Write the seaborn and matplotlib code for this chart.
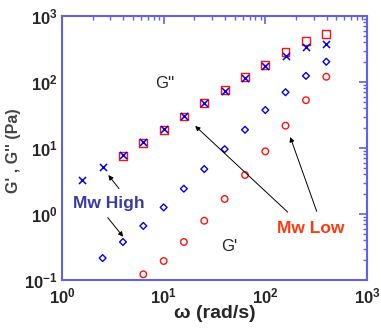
import numpy as np
import pandas as pd
import seaborn as sns
import matplotlib.pyplot as plt
from matplotlib.ticker import LogLocator, NullFormatter

# frequencies (rad/s)
omega = [1.58, 2.51, 3.98, 6.31, 10.0, 15.8, 25.1, 39.8, 63.1, 100, 158, 251, 398]

# Mw High
g2_high = [3.3, 5.1, 7.9, 12.3, 19.2, 30.5, 47.6, 74, 115, 173, 248, 336, 380]
g1_high = [None, 0.215, 0.377, 0.66, 1.26, 2.42, 4.8, 9.6, 18.9, 37.6, 70, 124, 203]

# Mw Low
g2_low = [None, None, 7.6, 12.0, 19.0, 30.0, 48.0, 75, 118, 180, 288, 420, 540]
g1_low = [None, None, None, 0.122, 0.194, 0.377, 0.79, 1.69, 3.9, 8.9, 21.8, 53, 120]

sns.set_style("white")
plt.rcParams['font.family'] = ['Liberation Sans', 'DejaVu Sans']

blue = "#0000ee"
red = "#ff1010"
frame = "#6060e8"

fig = plt.figure(figsize=(3.81, 3.29), dpi=100)
ax = fig.add_axes([0.1627, 0.1489, 0.8005, 0.8024])

df = pd.DataFrame({"w": omega, "g2h": g2_high, "g1h": g1_high,
                   "g2l": g2_low, "g1l": g1_low})

sns.scatterplot(data=df, x="w", y="g2l", marker="s", s=32, facecolor="none",
                edgecolor=red, linewidth=1.0, ax=ax)
sns.scatterplot(data=df, x="w", y="g1l", marker="o", s=22, facecolor="none",
                edgecolor=red, linewidth=1.0, ax=ax)
sns.scatterplot(data=df, x="w", y="g2h", marker="x", s=26, color=blue,
                linewidth=1.1, ax=ax)
sns.scatterplot(data=df, x="w", y="g1h", marker="D", s=12, facecolor="none",
                edgecolor=blue, linewidth=1.0, ax=ax)

ax.set_xscale("log")
ax.set_yscale("log")
ax.set_xlim(1, 1000)
ax.set_ylim(0.1, 1000)

for s in ax.spines.values():
    s.set_color(frame)
    s.set_linewidth(1.5)

ax.xaxis.set_major_locator(LogLocator(base=10, numticks=10))
ax.xaxis.set_minor_locator(LogLocator(base=10, subs=np.arange(2, 10), numticks=10))
ax.yaxis.set_major_locator(LogLocator(base=10, numticks=10))
ax.yaxis.set_minor_locator(LogLocator(base=10, subs=np.arange(2, 10), numticks=10))
ax.xaxis.set_minor_formatter(NullFormatter())
ax.yaxis.set_minor_formatter(NullFormatter())
ax.tick_params(which="both", direction="in", top=True, right=True, color=frame)
ax.tick_params(which="major", length=6, width=1.2, labelsize=12, pad=3)
ax.tick_params(axis="x", which="major", pad=5)
ax.tick_params(which="minor", length=3, width=1.0)
for lab in ax.get_xticklabels() + ax.get_yticklabels():
    lab.set_fontweight("bold")

ax.set_xlabel("\u03c9 (rad/s)", fontsize=14, fontweight="bold", labelpad=-1)
ax.set_ylabel("G' , G'' (Pa)", fontsize=11.5, fontweight="bold", color="#444444")
ax.yaxis.set_label_coords(-0.135, 0.49)

ax.text(10.3, 96, "G''", fontsize=12, ha="center", va="center")
ax.text(44, 0.32, "G'", fontsize=12, ha="center", va="center")
ax.text(2.9, 1.45, "Mw High", fontsize=12.5, fontweight="bold", color="#3a3aa0",
        ha="center", va="center")
ax.text(280, 0.61, "Mw Low", fontsize=12.5, fontweight="bold", color="#ff3a10",
        ha="center", va="center")

arrow = dict(arrowstyle="-|>", color="black", lw=0.7, mutation_scale=7)
ax.annotate("", xy=(2.75, 4.2), xytext=(3.78, 2.25), arrowprops=arrow)
ax.annotate("", xy=(4.16, 0.42), xytext=(2.71, 0.95), arrowprops=arrow)
ax.annotate("", xy=(19.5, 23.1), xytext=(174, 1.0), arrowprops=arrow)
ax.annotate("", xy=(172, 16.1), xytext=(327, 1.0), arrowprops=arrow)

fig.savefig("out.png", dpi=100)
